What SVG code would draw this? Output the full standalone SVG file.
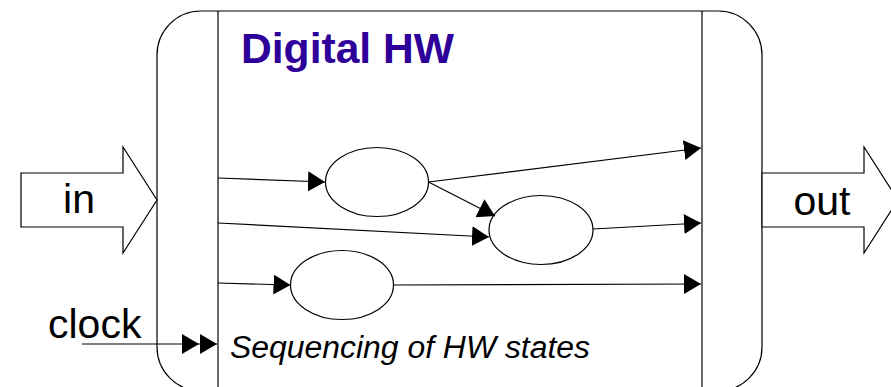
<svg xmlns="http://www.w3.org/2000/svg" width="891" height="387" viewBox="0 0 891 387">
  <defs>
    <marker id="ah" markerUnits="userSpaceOnUse" markerWidth="18" markerHeight="22" refX="17" refY="10" orient="auto" viewBox="0 0 18 22">
      <path d="M0,0 L17,10 L0,20 z" fill="#000"/>
    </marker>
  </defs>
  <style>
    .ln { stroke: #000; stroke-width: 1.2; fill: none; }
    .conn { stroke: #000; stroke-width: 1.2; fill: none; marker-end: url(#ah); }
    .st { stroke: #000; stroke-width: 1.2; fill: #fff; }
    .lbl { font-family: "Liberation Sans", Arial, sans-serif; font-size: 41px; fill: #000; }
  </style>
  <rect width="891" height="387" fill="#fff"/>

  <g id="hw-box">
    <rect x="157" y="11" width="605" height="380" rx="44" ry="44" class="ln"/>
    <line x1="218" y1="11" x2="218" y2="391" class="ln"/>
    <line x1="702" y1="11" x2="702" y2="391" class="ln"/>
    <text x="241" y="63" font-family="Liberation Sans, Arial, sans-serif" font-weight="bold" font-size="42" fill="#2E0099" textLength="213" lengthAdjust="spacingAndGlyphs">Digital HW</text>
    <text x="230" y="358" font-family="Liberation Sans, Arial, sans-serif" font-style="italic" font-size="31" fill="#000" textLength="360" lengthAdjust="spacingAndGlyphs">Sequencing of HW states</text>
  </g>

  <g id="in-arrow">
    <polygon points="21,173 123,173 123,147 157,200 123,253 123,227 21,227" class="st"/>
    <text x="79" y="213" text-anchor="middle" class="lbl">in</text>
  </g>

  <g id="out-arrow">
    <polygon points="762,173 864,173 864,147 898,200 864,253 864,227 762,227" class="st"/>
    <text x="822" y="215" text-anchor="middle" class="lbl">out</text>
  </g>

  <g id="clock">
    <text x="48" y="338" class="lbl">clock</text>
  </g>

  <g id="state1"><ellipse cx="377" cy="182" rx="51.5" ry="34.5" class="st"/></g>
  <g id="state2"><ellipse cx="541" cy="230" rx="52" ry="34.5" class="st"/></g>
  <g id="state3"><ellipse cx="342" cy="285" rx="51.5" ry="34.5" class="st"/></g>

  <g id="connectors">
    <line x1="218" y1="178" x2="325" y2="182" class="conn"/>
    <line x1="218" y1="223" x2="489" y2="237" class="conn"/>
    <line x1="218" y1="283" x2="290.5" y2="285" class="conn"/>
    <line x1="428.5" y1="182" x2="701" y2="148" class="conn"/>
    <line x1="428.5" y1="182" x2="495" y2="216" class="conn"/>
    <line x1="593" y1="229" x2="701" y2="223" class="conn"/>
    <line x1="393.5" y1="285" x2="701" y2="284" class="conn"/>
    <polyline points="82,344 199,344 217,344" class="ln" marker-mid="url(#ah)" marker-end="url(#ah)"/>
  </g>
</svg>
